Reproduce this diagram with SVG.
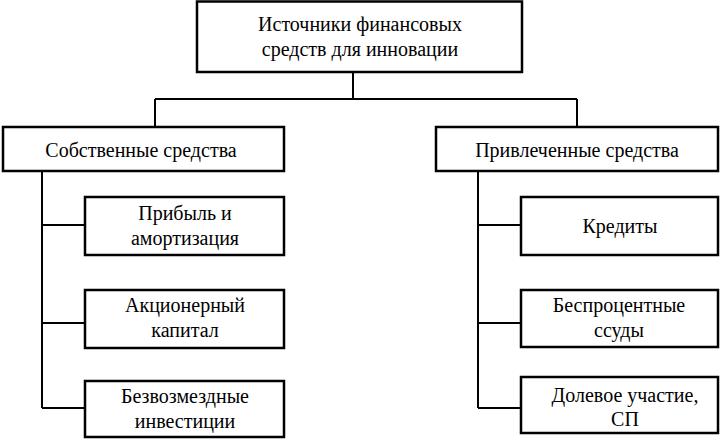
<svg xmlns="http://www.w3.org/2000/svg" width="720" height="439" viewBox="0 0 720 439">
<style>
.box{fill:#fff;stroke:#000;stroke-width:2.5}
.ln{fill:none;stroke:#000;stroke-width:2}
.t{font-family:"Times New Roman","Liberation Serif",serif;font-size:20px;fill:#000;text-anchor:middle}
</style>
<rect width="720" height="439" fill="#fff"/>
<g id="connectors">
<path class="ln" d="M353 72V99M155 99H577M155 99V127M577 99V127"/>
<path class="ln" d="M42 171V408M42 225H85M42 323H85M42 408H85"/>
<path class="ln" d="M478 171V408M478 225H521M478 323H521M478 408H521"/>
</g>
<g font-family="Liberation Serif, Times New Roman, serif" font-size="20" text-anchor="middle">
<g id="root">
<rect class="box" x="197" y="1.5" width="325" height="70.5"/>
<text class="t" x="360" y="31">Источники финансовых</text>
<text class="t" x="360" y="56">средств для инновации</text>
</g>
<g id="own">
<rect class="box" x="3" y="127" width="281" height="44"/>
<text class="t" x="141" y="157">Собственные средства</text>
</g>
<g id="attracted">
<rect class="box" x="436" y="127" width="282" height="44"/>
<text class="t" x="577" y="157">Привлеченные средства</text>
</g>
<g id="profit">
<rect class="box" x="85" y="197" width="199" height="58"/>
<text class="t" x="185" y="220">Прибыль и</text>
<text class="t" x="185" y="245">амортизация</text>
</g>
<g id="equity">
<rect class="box" x="85" y="290" width="199" height="58"/>
<text class="t" x="185" y="312">Акционерный</text>
<text class="t" x="185" y="337">капитал</text>
</g>
<g id="grants">
<rect class="box" x="85" y="381" width="199" height="56"/>
<text class="t" x="185" y="403">Безвозмездные</text>
<text class="t" x="185" y="428">инвестиции</text>
</g>
<g id="credits">
<rect class="box" x="521" y="197" width="197" height="58"/>
<text class="t" x="620" y="233">Кредиты</text>
</g>
<g id="loans">
<rect class="box" x="521" y="290" width="197" height="57"/>
<text class="t" x="619" y="312">Беспроцентные</text>
<text class="t" x="619" y="337">ссуды</text>
</g>
<g id="share">
<rect class="box" x="521" y="377" width="197" height="56"/>
<text class="t" x="625" y="402">Долевое участие,</text>
<text class="t" x="625" y="426">СП</text>
</g>
</g>
</svg>
